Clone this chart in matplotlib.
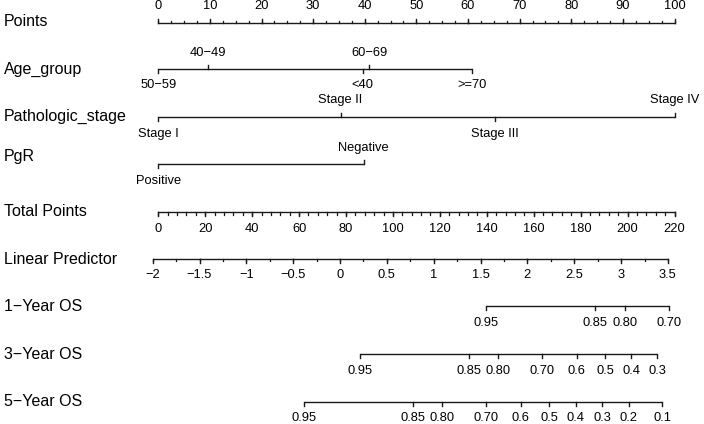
import numpy as np
import matplotlib
matplotlib.use('Agg')
import matplotlib.pyplot as plt

plt.rcParams['font.family'] = ['Liberation Sans', 'DejaVu Sans']

# --- values ---
row_names = ['Points', 'Age_group', 'Pathologic_stage', 'PgR', 'Total Points',
             'Linear Predictor', '1\u2212Year OS', '3\u2212Year OS', '5\u2212Year OS']

points_ticks = np.arange(0, 101, 10)
points_minor = np.arange(0, 100.1, 2.5)

age_labels = ['50\u221259', '40\u221249', '<40', '60\u221269', '>=70']
age_points = [0, 9.7, 39.6, 40.9, 60.8]
age_above = [False, True, False, True, False]

stage_labels = ['Stage I', 'Stage II', 'Stage III', 'Stage IV']
stage_points = [0, 35.3, 65.2, 100]
stage_above = [False, True, False, True]

pgr_labels = ['Positive', 'Negative']
pgr_points = [0, 39.8]
pgr_above = [False, True]

total_ticks = np.arange(0, 221, 20)
total_minor = np.arange(0, 220.1, 4)

lp_ticks = np.arange(-2, 3.51, 0.5)
lp_minor = np.arange(-2, 3.51, 0.25)
lp_ends_total = (-2.4, 217.2)   # total points at LP = -2 and LP = 3.5

os1_labels = ['0.95', '0.85', '0.80', '0.70']
os1_total = [139.8, 186.1, 199.0, 217.7]
os3_labels = ['0.95', '0.85', '0.80', '0.70', '0.6', '0.5', '0.4', '0.3']
os3_total = [85.9, 132.4, 144.8, 163.7, 178.4, 190.5, 201.6, 212.6]
os5_labels = ['0.95', '0.85', '0.80', '0.70', '0.6', '0.5', '0.4', '0.3', '0.2', '0.1']
os5_total = [62.2, 108.6, 121.1, 139.8, 154.4, 166.6, 177.9, 189.1, 200.4, 214.8]

max_total = 220.0

# layout (pixel rows)
row_y = [22.7, 69, 117, 164, 212.3, 259, 306, 354, 401.7]
name_y = [21.5, 69, 116.5, 156, 212, 259, 306.5, 354.5, 402]

fig = plt.figure(figsize=(7.04, 4.24), dpi=100)
ax = fig.add_axes([0, 0, 1, 1])
px = 100 / 516.2
ax.set_xlim(-158.3 * px, (704 - 158.3) * px)
ax.set_ylim(424, 0)
ax.axis('off')

LW = 1.0
TICK = 3.8
MINOR = 2.2
GAP = 16.5
FS_NAME = 11.5
FS_TICK = 9.3
INK = '#1a1a1a'


def fmt(v):
    s = '%g' % v
    return s.replace('-', '\u2212')


def scale_axis(y, pos, labels, up, minor=None):
    # continuous axis: line, major ticks, optional minor ticks
    sgn = -1 if up else 1
    ax.plot([min(pos), max(pos)], [y, y], color=INK, lw=LW, solid_capstyle='butt')
    for p, lab in zip(pos, labels):
        ax.plot([p, p], [y, y + sgn * TICK], color=INK, lw=LW)
        ax.text(p, y + sgn * GAP, lab, ha='center', va='center', fontsize=FS_TICK)
    if minor is not None:
        for p in minor:
            ax.plot([p, p], [y, y + sgn * MINOR], color=INK, lw=LW * 0.9)


def factor_axis(y, pos, labels, above):
    ax.plot([min(pos), max(pos)], [y, y], color=INK, lw=LW, solid_capstyle='butt')
    for p, lab, a in zip(pos, labels, above):
        sgn = -1 if a else 1
        ax.plot([p, p], [y, y + sgn * TICK], color=INK, lw=LW)
        ax.text(p, y + sgn * GAP, lab, ha='center', va='center', fontsize=FS_TICK)


for name, y in zip(row_names, name_y):
    ax.text(-158.3 * px + 4 * px, y, name, ha='left', va='center', fontsize=FS_NAME)

to_pts = 100 / max_total

scale_axis(row_y[0], points_ticks, [fmt(v) for v in points_ticks], True, points_minor)
factor_axis(row_y[1], age_points, age_labels, age_above)
factor_axis(row_y[2], stage_points, stage_labels, stage_above)
factor_axis(row_y[3], pgr_points, pgr_labels, pgr_above)
scale_axis(row_y[4], total_ticks * to_pts, [fmt(v) for v in total_ticks], False,
           total_minor * to_pts)

lp_slope = (lp_ends_total[1] - lp_ends_total[0]) / (lp_ticks[-1] - lp_ticks[0])
lp_pos = (lp_ends_total[0] + (lp_ticks - lp_ticks[0]) * lp_slope) * to_pts
lp_minor_pos = (lp_ends_total[0] + (lp_minor - lp_ticks[0]) * lp_slope) * to_pts
scale_axis(row_y[5], lp_pos, [fmt(v) for v in lp_ticks], False, lp_minor_pos)

scale_axis(row_y[6], np.array(os1_total) * to_pts, os1_labels, False)
scale_axis(row_y[7], np.array(os3_total) * to_pts, os3_labels, False)
scale_axis(row_y[8], np.array(os5_total) * to_pts, os5_labels, False)

fig.savefig('out.png', dpi=100)
